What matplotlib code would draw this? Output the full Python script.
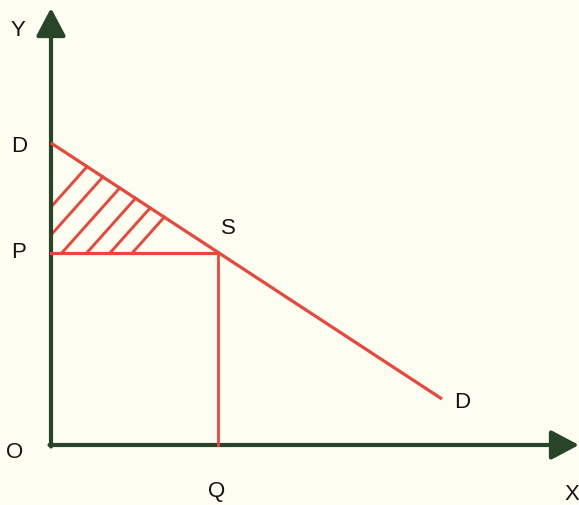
import matplotlib
matplotlib.use("Agg")
import matplotlib.pyplot as plt

# demand curve end points (quantity, price)
demand_q = [0, 391]
demand_p = [302, 46]

# market point S
price_p = 192
quantity_q = 167

# intercepts of the hatch lines (p = HATCH_SLOPE * q + c)
hatch_c = [238, 210, 180, 152, 126, 101]
HATCH_SLOPE = 1.12

X_END = 528
Y_END = 437

AXIS_COLOR = "#28452a"
RED = "#e8483c"
BG = "#fdfdf2"
TXT = "#141414"

fig = plt.figure(figsize=(5.79, 5.05), dpi=100, facecolor=BG)
ax = fig.add_axes([0, 0, 1, 1])
ax.set_facecolor(BG)
ax.set_xlim(-51, 528)
ax.set_ylim(-60, 445)
ax.axis("off")

# axes with arrows
arrow = dict(arrowstyle="-|>,head_length=0.85,head_width=0.45", color=AXIS_COLOR,
             lw=3.0, mutation_scale=20, shrinkA=0, shrinkB=0)
ax.annotate("", xy=(X_END, 0), xytext=(-1.5, 0), arrowprops=arrow)
ax.annotate("", xy=(0, Y_END), xytext=(0, -1.5), arrowprops=arrow)

# demand line
ax.plot(demand_q, demand_p, color=RED, lw=2.3, solid_capstyle="butt", zorder=3)

# price and quantity lines
ax.plot([0, quantity_q], [price_p, price_p], color=RED, lw=2.3, zorder=3)
ax.plot([quantity_q, quantity_q], [0, price_p], color=RED, lw=2.0, zorder=3)

# hatching of consumer surplus
d_slope = (demand_p[1] - demand_p[0]) / (demand_q[1] - demand_q[0])
for c in hatch_c:
    q0 = max(0, (price_p - c) / HATCH_SLOPE)
    q1 = (demand_p[0] - c) / (HATCH_SLOPE - d_slope)
    ax.plot([q0, q1], [HATCH_SLOPE * q0 + c, HATCH_SLOPE * q1 + c],
            color=RED, lw=2.1, zorder=2)

font = dict(fontsize=16, color=TXT, ha="center", va="center", family="Liberation Sans")
ax.text(-33, 414, "Y", **font)
ax.text(-32, 299, "D", **font)
ax.text(-32, 193, "P", **font)
ax.text(-36, -7, "O", **font)
ax.text(quantity_q - 1, -47, "Q", **font)
ax.text(521, -50, "X", **font)
ax.text(quantity_q + 10, 217, "S", **font)
ax.text(demand_q[1] + 20, demand_p[1] - 3, "D", **font)

fig.savefig("out.png", dpi=100, facecolor=BG)
